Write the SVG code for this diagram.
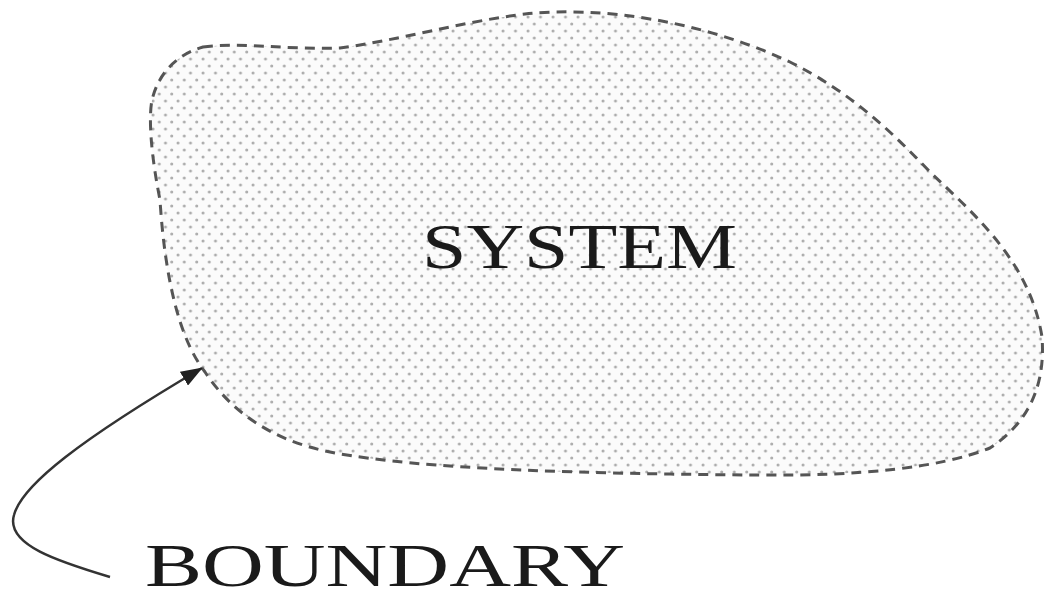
<svg xmlns="http://www.w3.org/2000/svg" width="1044" height="597" viewBox="0 0 1044 597">
<style>
.lbl{font-family:"Liberation Serif","Times New Roman",serif;fill:#1a1a1a}
.bnd{fill:url(#dots);stroke:#555;stroke-width:3;stroke-dasharray:10 7}
.conn{fill:none;stroke:#333;stroke-width:2.5}
</style>
<defs>
<pattern id="dots" x="0" y="0" width="12.5" height="14" patternUnits="userSpaceOnUse">
<rect width="12.5" height="14" fill="#fbfbfb"/>
<circle cx="3" cy="3" r="1.5" fill="#acacac"/>
<circle cx="9.25" cy="10" r="1.5" fill="#acacac"/>
</pattern>
<marker id="arrh" viewBox="0 0 22 16" refX="21" refY="8" markerWidth="22" markerHeight="16" markerUnits="userSpaceOnUse" orient="auto">
<path d="M0,0 L22,8 L0,16 Z" fill="#222"/>
</marker>
</defs>
<g id="system">
<path class="bnd" d="M203,47 C240,42 290,50 340,48 C400,40 460,22 525,14 C600,6 700,20 790,62 C850,92 890,130 930,172 C975,215 1030,262 1042,337 C1046,390 1025,425 990,448 C940,468 860,476 760,475 C600,474 420,470 330,452 C270,440 230,410 205,372 C180,340 165,280 160,200 C152,160 148,120 152,100 C158,75 175,55 203,47 Z"/>
<text class="lbl" x="422" y="268" font-size="64" textLength="315" lengthAdjust="spacingAndGlyphs">SYSTEM</text>
</g>
<g id="boundary">
<text class="lbl" x="145" y="586" font-size="62" textLength="480" lengthAdjust="spacingAndGlyphs">BOUNDARY</text>
</g>
<g id="connectors">
<path class="conn" marker-end="url(#arrh)" d="M110,577 C60,562 5,545 14,515 C22,485 80,440 202,368"/>
</g>
</svg>
